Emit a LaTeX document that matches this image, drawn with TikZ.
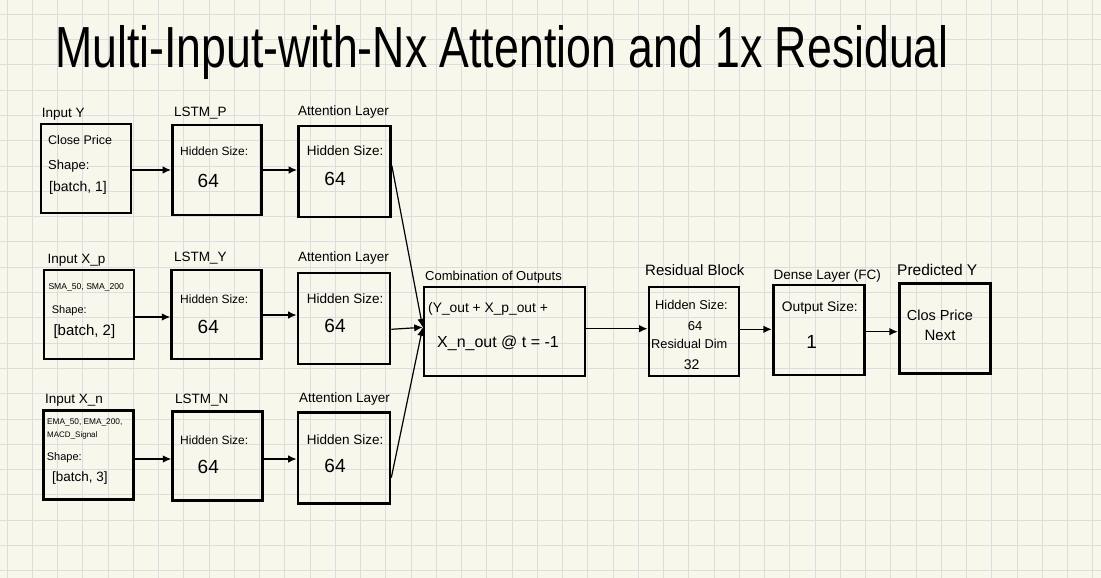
\documentclass[tikz,border=0pt]{standalone}
\usepackage{fontspec}
\setmainfont{Liberation Sans}
\usetikzlibrary{arrows.meta}
\definecolor{paper}{RGB}{248,247,236}
\definecolor{gridc}{RGB}{221,221,224}
\begin{document}
\begin{tikzpicture}[x=1pt,y=-1pt,
  box/.style={draw=black, line width=2.6pt, inner sep=0pt},
  lbl/.style={anchor=west, inner sep=0pt, font=\fontsize{13.5}{14}\selectfont},
  txt/.style={anchor=west, inner sep=0pt, font=\fontsize{12}{13}\selectfont},
  num/.style={inner sep=0pt, font=\fontsize{19}{20}\selectfont},
  arr/.style={line width=1.5pt, -{Latex[length=8.5pt,width=7.5pt]}},
  feed/.style={line width=1.2pt, -{Latex[length=8.5pt,width=7.5pt]}}]
\useasboundingbox (0,0) rectangle (1101,578);
\fill[paper] (0,0) rectangle (1101,578);
\foreach \k in {0,...,43} \draw[gridc, line width=1pt] ({7+25.25*\k},0) -- ({7+25.25*\k},578);
\foreach \k in {0,...,22} \draw[gridc, line width=1pt] (0,{14.2+25.3*\k}) -- (1101,{14.2+25.3*\k});

% title
\node[inner sep=0pt, anchor=base] (title) at (502,67)
  {\scalebox{0.77}[1]{\fontsize{58}{60}\selectfont Multi-Input-with-Nx Attention and 1x Residual}};

% row 1
\node[box, minimum width=90pt, minimum height=89pt] (iy) at (86,168.5) {};
\node[box, minimum width=89pt, minimum height=90pt] (lp) at (217,170) {};
\node[box, minimum width=92pt, minimum height=91pt] (a1) at (344.5,171.5) {};
\node[lbl] (iyl) at (41.7,114) {Input Y};
\node[lbl] (lpl) at (174,113) {LSTM\_P};
\node[lbl] (a1l) at (298,112) {Attention Layer};
\node[txt, font=\fontsize{12.5}{13}\selectfont] (iyt1) at (48,140) {Close Price};
\node[txt, font=\fontsize{13}{14}\selectfont] (iyt2) at (48,165.7) {Shape:};
\node[txt, font=\fontsize{14}{15}\selectfont] (iyt3) at (49,188.3) {[batch, 1]};
\node[txt] (lpt) at (180,151.7) {Hidden Size:};
\node[num] (lpn) at (208.3,180.7) {64};
\node[txt, font=\fontsize{13.5}{14}\selectfont] (a1t) at (306.7,150.7) {Hidden Size:};
\node[num] (a1n) at (335,179) {64};

% row 2
\node[box, minimum width=90pt, minimum height=89pt] (ixp) at (89,314.5) {};
\node[box, minimum width=90pt, minimum height=89pt] (ly) at (216.7,314.5) {};
\node[box, minimum width=92pt, minimum height=91pt] (a2) at (344,318.3) {};
\node[lbl] (ixpl) at (47.3,260) {Input X\_p};
\node[lbl] (lyl) at (174,258) {LSTM\_Y};
\node[lbl] (a2l) at (298,258) {Attention Layer};
\node[txt, font=\fontsize{8.6}{9}\selectfont] (ixpt1) at (48.3,287.3) {SMA\_50, SMA\_200};
\node[txt, font=\fontsize{11}{12}\selectfont] (ixpt2) at (51.7,310.7) {Shape:};
\node[txt, font=\fontsize{15}{16}\selectfont] (ixpt3) at (53.3,331.7) {[batch, 2]};
\node[txt] (lyt) at (180,299) {Hidden Size:};
\node[num] (lyn) at (208.3,327.3) {64};
\node[txt, font=\fontsize{13.5}{14}\selectfont] (a2t) at (306.7,299) {Hidden Size:};
\node[num] (a2n) at (335,325.7) {64};

% row 3
\node[box, minimum width=90pt, minimum height=89pt] (ixn) at (88.3,454.7) {};
\node[box, minimum width=89.6pt, minimum height=89pt] (ln) at (217.5,456.2) {};
\node[box, minimum width=92pt, minimum height=91pt] (a3) at (344,457.7) {};
\node[lbl] (ixnl) at (45,400.7) {Input X\_n};
\node[lbl] (lnl) at (175,400) {LSTM\_N};
\node[lbl] (a3l) at (299,399) {Attention Layer};
\node[txt, font=\fontsize{8.3}{9}\selectfont] (ixnt1) at (47,422.7) {EMA\_50, EMA\_200,};
\node[txt, font=\fontsize{8}{9}\selectfont] (ixnt2) at (47,435.3) {MACD\_Signal};
\node[txt, font=\fontsize{11}{12}\selectfont] (ixnt3) at (46.7,457.3) {Shape:};
\node[txt, font=\fontsize{13.5}{14}\selectfont] (ixnt4) at (52,478.3) {[batch, 3]};
\node[txt] (lnt) at (180,440) {Hidden Size:};
\node[num] (lnn) at (208.3,467.3) {64};
\node[txt, font=\fontsize{13.5}{14}\selectfont] (a3t) at (306.7,440) {Hidden Size:};
\node[num] (a3n) at (335,466) {64};

% combination and output stages
\node[box, minimum width=161pt, minimum height=89pt] (comb) at (504.5,331.3) {};
\node[box, minimum width=90pt, minimum height=89pt] (res) at (694,331.3) {};
\node[box, minimum width=91pt, minimum height=90pt] (dense) at (818.7,330) {};
\node[box, minimum width=91pt, minimum height=90pt] (pred) at (944.7,328.3) {};
\node[lbl, font=\fontsize{13}{14}\selectfont] (combl) at (425,276.7) {Combination of Outputs};
\node[lbl, font=\fontsize{15}{16}\selectfont] (resl) at (645,270) {Residual Block};
\node[lbl] (densel) at (773.3,275.7) {Dense Layer (FC)};
\node[lbl, font=\fontsize{15.5}{16}\selectfont] (predl) at (897,270) {Predicted Y};
\node[txt, font=\fontsize{13.8}{14}\selectfont] (combt1) at (428,309) {(Y\_out + X\_p\_out +};
\node[txt, font=\fontsize{16}{17}\selectfont] (combt2) at (437,343.3) {X\_n\_out @ t = -1};
\node[txt, font=\fontsize{12.8}{13}\selectfont] (rest1) at (655,305) {Hidden Size:};
\node[num, font=\fontsize{13}{14}\selectfont] (rest2) at (695,325.7) {64};
\node[txt, font=\fontsize{12.8}{13}\selectfont] (rest3) at (651,344) {Residual Dim};
\node[num, font=\fontsize{14}{15}\selectfont] (rest4) at (691.7,365) {32};
\node[txt, font=\fontsize{13.8}{14}\selectfont] (denset) at (781.7,308.3) {Output Size:};
\node[num] (densen) at (811.7,341.7) {1};
\node[txt, font=\fontsize{14.5}{15}\selectfont] (predt1) at (906.7,315) {Clos Price};
\node[num, font=\fontsize{15}{16}\selectfont] (predt2) at (940,335.7) {Next};

% connectors
\draw[arr] ([yshift=-1.5pt]iy.east) -- ([yshift=-1.5pt]iy.east -| lp.west);
\draw[arr] (lp.east) -- (lp.east -| a1.west);
\draw[arr] ([yshift=-2.5pt]ixp.east) -- ([yshift=-2.5pt]ixp.east -| ly.west);
\draw[arr] ([yshift=-0.5pt]ly.east) -- ([yshift=-0.5pt]ly.east -| a2.west);
\draw[arr] ([yshift=-4.3pt]ixn.east) -- ([yshift=-4.3pt]ixn.east -| ln.west);
\draw[arr] ([yshift=-2.8pt]ln.east) -- ([yshift=-2.8pt]ln.east -| a3.west);
\coordinate (cin) at ([yshift=4pt]comb.west);
\draw[feed] ([yshift=6pt]a1.east) -- (cin);
\draw[feed] ([yshift=-11pt]a2.east) -- (cin);
\draw[feed] ([yshift=-20pt]a3.east) -- (cin);
\draw[arr] ([yshift=2.6pt]comb.east) -- ([yshift=2.6pt]comb.east -| res.west);
\draw[arr] ([yshift=2pt]res.east) -- ([yshift=2pt]res.east -| dense.west);
\draw[arr] ([yshift=-1.7pt]dense.east) -- ([yshift=-1.7pt]dense.east -| pred.west);
\end{tikzpicture}
\end{document}
